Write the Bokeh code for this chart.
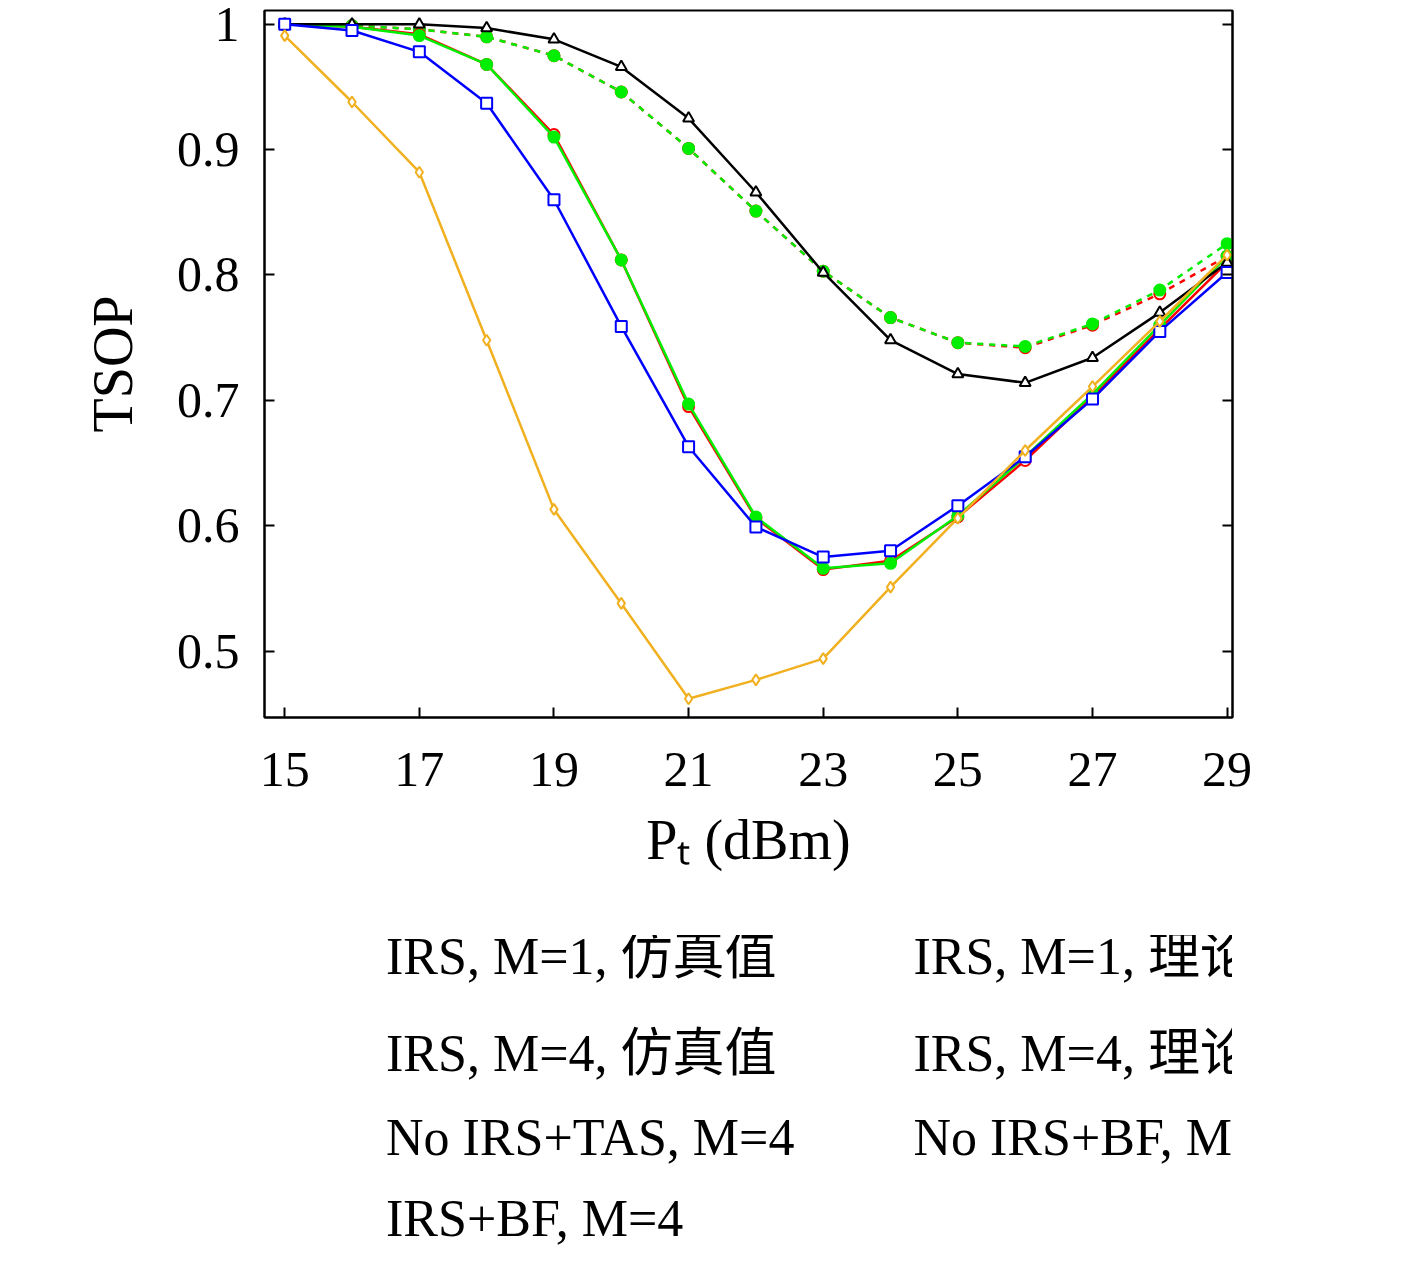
from bokeh.plotting import figure
from bokeh.models import Legend, LegendItem, LinearAxis, FixedTicker
from bokeh.layouts import column
from bokeh.embed import file_html
from bokeh.resources import INLINE

x = list(range(15, 30))
m1_sim = [1.0, 0.999, 0.996, 0.990, 0.975, 0.946, 0.901, 0.851, 0.803, 0.766, 0.746, 0.742, 0.760, 0.785, 0.815]
m1_th = [1.0, 0.999, 0.996, 0.990, 0.975, 0.946, 0.901, 0.851, 0.803, 0.766, 0.746, 0.743, 0.761, 0.788, 0.825]
m4_sim = [1.0, 0.998, 0.992, 0.968, 0.912, 0.812, 0.695, 0.606, 0.565, 0.572, 0.607, 0.652, 0.703, 0.757, 0.810]
m4_th = [1.0, 0.998, 0.991, 0.968, 0.910, 0.812, 0.697, 0.607, 0.566, 0.570, 0.608, 0.655, 0.705, 0.760, 0.815]
tas = [1.0, 1.0, 1.0, 0.997, 0.988, 0.966, 0.925, 0.866, 0.802, 0.748, 0.721, 0.714, 0.734, 0.770, 0.810]
nobf = [1.0, 0.995, 0.978, 0.937, 0.860, 0.759, 0.663, 0.599, 0.575, 0.580, 0.616, 0.655, 0.701, 0.755, 0.802]
irsbf = [0.991, 0.938, 0.882, 0.748, 0.613, 0.538, 0.462, 0.477, 0.494, 0.551, 0.606, 0.660, 0.711, 0.763, 0.816]
xticks = [15, 17, 19, 21, 23, 25, 27, 29]
yticks = [0.5, 0.6, 0.7, 0.8, 0.9, 1.0]

SERIF = "Liberation Serif, Noto Sans CJK SC"
p = figure(width=1400, height=935, output_backend="svg", toolbar_location=None,
           x_range=(14.7, 29.08), y_range=(0.447, 1.011),
           min_border_left=264, min_border_right=168, min_border_top=10, min_border_bottom=218)
p.grid.visible = False
p.outline_line_color = "black"
p.outline_line_width = 2

lf = figure(width=1400, height=333, output_backend="svg", toolbar_location=None,
            x_range=(0, 1), y_range=(0, 1), min_border=0)
lf.axis.visible = False
lf.grid.visible = False
lf.outline_line_color = None

series = [
    (m1_sim, "#ff0000", "dashed", "circle", "white", "IRS, M=1, 仿真值"),
    (m1_th, "#00ee00", "dashed", "circle", "#00ee00", "IRS, M=1, 理论值"),
    (m4_sim, "#ff0000", "solid", "circle", "white", "IRS, M=4, 仿真值"),
    (m4_th, "#00ee00", "solid", "circle", "#00ee00", "IRS, M=4, 理论值"),
    (tas, "black", "solid", "triangle", "white", "No IRS+TAS, M=4"),
    (nobf, "#0000ff", "solid", "square", "white", "No IRS+BF, M=4"),
    (irsbf, "#f0b020", "solid", "diamond", "white", "IRS+BF, M=4"),
]
items = {}
for ys, c, dash, mk, fill, lab in series:
    p.line(x, ys, line_color=c, line_width=2.5, line_dash=dash)
    p.scatter(x, ys, marker=mk, size=11, line_color=c, fill_color=fill, line_width=2)
    l1 = lf.line([], [], line_color=c, line_width=2.5, line_dash=dash)
    l2 = lf.scatter([], [], marker=mk, size=11, line_color=c, fill_color=fill, line_width=2)
    items[lab] = LegendItem(label=lab, renderers=[l1, l2])

order = ["IRS, M=1, 仿真值", "IRS, M=4, 仿真值", "No IRS+TAS, M=4", "IRS+BF, M=4",
         "IRS, M=1, 理论值", "IRS, M=4, 理论值", "No IRS+BF, M=4"]

for ax in (p.xaxis[0], p.yaxis[0]):
    ax.major_label_text_font = SERIF
    ax.major_label_text_font_size = "50px"
    ax.major_label_text_color = "black"
    ax.axis_label_text_font = SERIF
    ax.axis_label_text_font_style = "normal"
    ax.axis_label_text_font_size = "56px"
    ax.axis_label_text_color = "black"
    ax.major_tick_in = 10
    ax.major_tick_out = 0
    ax.minor_tick_line_color = None
    ax.major_tick_line_width = 2
    ax.axis_line_width = 2
p.xaxis[0].ticker = FixedTicker(ticks=xticks)
p.yaxis[0].ticker = FixedTicker(ticks=yticks)
p.xaxis[0].axis_label = "Pₜ (dBm)"
p.yaxis[0].axis_label = "TSOP"
p.xaxis[0].major_label_standoff = 35
p.yaxis[0].major_label_standoff = 25
p.xaxis[0].axis_label_standoff = 20
p.yaxis[0].axis_label_standoff = 30

ra = LinearAxis(ticker=FixedTicker(ticks=yticks), major_label_text_font_size="1px",
                major_label_text_color=None,
                major_tick_in=10, major_tick_out=0, minor_tick_line_color=None,
                major_tick_line_width=2, axis_line_width=2)
p.add_layout(ra, "right")

leg = Legend(items=[items[k] for k in order], ncols=2, label_text_font=SERIF,
             label_text_font_size="52px", label_text_color="black",
             glyph_width=85, glyph_height=50, spacing=22, label_standoff=12,
             border_line_color=None, background_fill_alpha=0, padding=0,
             location=(25, 20))
leg.label_height = 52
lf.add_layout(leg, "center")

open("out.html", "w").write(file_html(column(p, lf, spacing=0), INLINE))
